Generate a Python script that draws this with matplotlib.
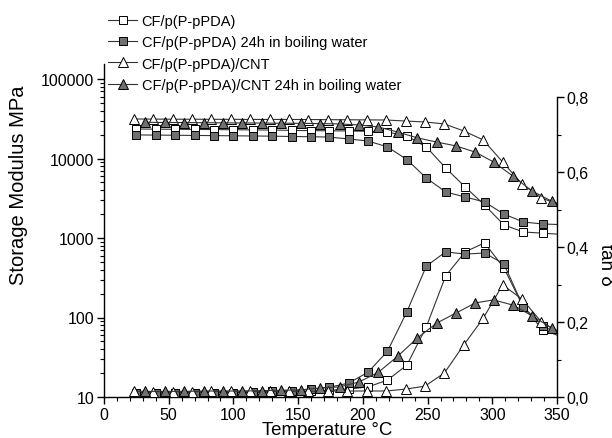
import matplotlib
matplotlib.use("Agg")
import matplotlib.pyplot as plt
from matplotlib.ticker import MultipleLocator, LogLocator, FixedLocator, FuncFormatter, NullFormatter

plt.rcParams['font.family'] = ['Liberation Sans', 'DejaVu Sans']

# ---- data ----
T_sq = [25, 40, 55, 70, 85, 100, 115, 130, 145, 160, 174, 189, 204, 219, 234, 249, 264, 279, 294, 309, 324, 339, 350]
T_tri_open = [23, 38, 53, 68, 83, 98, 113, 128, 143, 158, 173, 188, 203, 218, 233, 248, 263, 278, 293, 308, 323, 338, 350]
T_tri_fill = [32, 47, 62, 77, 92, 107, 122, 137, 152, 167, 182, 197, 212, 227, 242, 257, 272, 287, 301, 316, 331, 346, 350]

E_sq_open = [23500, 23400, 23300, 23200, 23100, 23000, 22900, 22800, 22600, 22400, 22300, 22200, 22000, 21500,
             19200, 14000, 7600, 4390, 2600, 1460, 1190, 1150, 1120]
E_sq_fill = [19800, 19700, 19600, 19500, 19400, 19300, 19200, 19100, 18900, 18800, 18600, 17600, 16600, 14000,
             9700, 5690, 3790, 3280, 2840, 2000, 1590, 1500, 1480]
E_tri_open = [31400, 31300, 31200, 31200, 31100, 31100, 31000, 31000, 31000, 30900, 30800, 30700, 30600, 30500,
              29600, 28800, 27200, 22200, 17100, 9040, 4780, 3180, 2700]
E_tri_fill = [28500, 28400, 28300, 28200, 28100, 28000, 27900, 27800, 27700, 27500, 27200, 26400, 24900, 21500,
              18200, 16100, 14400, 12000, 9040, 6000, 3870, 2900, 2750]

tan_sq_open = [0.012, 0.011, 0.011, 0.011, 0.012, 0.012, 0.012, 0.013, 0.014, 0.016, 0.018, 0.021, 0.027, 0.045,
               0.085, 0.187, 0.323, 0.387, 0.411, 0.344, 0.240, 0.179, 0.165]
tan_sq_fill = [0.012, 0.011, 0.011, 0.012, 0.012, 0.012, 0.013, 0.015, 0.017, 0.021, 0.026, 0.037, 0.066, 0.122,
               0.227, 0.349, 0.387, 0.381, 0.384, 0.355, 0.240, 0.190, 0.170]
tan_tri_open = [0.016, 0.014, 0.014, 0.014, 0.015, 0.015, 0.015, 0.015, 0.015, 0.015, 0.016, 0.016, 0.016, 0.016,
                0.021, 0.029, 0.064, 0.139, 0.210, 0.299, 0.261, 0.200, 0.175]
tan_tri_fill = [0.015, 0.015, 0.015, 0.016, 0.016, 0.016, 0.017, 0.018, 0.019, 0.024, 0.027, 0.040, 0.066, 0.109,
                0.157, 0.197, 0.224, 0.251, 0.259, 0.245, 0.216, 0.184, 0.178]

labels = ["CF/p(P-pPDA)", "CF/p(P-pPDA) 24h in boiling water",
          "CF/p(P-pPDA)/CNT", "CF/p(P-pPDA)/CNT 24h in boiling water"]

# ---- figure ----
fig = plt.figure(figsize=(6.12, 4.39), dpi=100)
ax = fig.add_axes([104/612, 1-398/439, 453/612, 333/439])
ax2 = ax.twinx()

line_c = '#333333'
fill_c = '#707070'
styles = [
    dict(marker='s', mfc='white', ms=5.4),
    dict(marker='s', mfc=fill_c, ms=5.4),
    dict(marker='^', mfc='white', ms=6.6),
    dict(marker='^', mfc=fill_c, ms=6.6),
]
Ts = [T_sq, T_sq, T_tri_open, T_tri_fill]
Es = [E_sq_open, E_sq_fill, E_tri_open, E_tri_fill]
tans = [tan_sq_open, tan_sq_fill, tan_tri_open, tan_tri_fill]

handles = []
for T, E, tn, st, lab in zip(Ts, Es, tans, styles, labels):
    n = len(T) - 1
    h, = ax.plot(T, E, color=line_c, lw=0.8, mec='black', mew=0.7,
                 markevery=list(range(n)), label=lab, **st)
    ax2.plot(T, tn, color=line_c, lw=0.8, mec='black', mew=0.7,
             markevery=list(range(n)), **st)
    handles.append(h)

ax.set_yscale('log')
ax.set_xlim(0, 350)
ax.set_ylim(10, 10**(1 + 333/79.5))
ax2.set_ylim(0, 0.8 * 333 / 300)

ax.spines['top'].set_visible(False)
ax.spines['right'].set_visible(False)
ax2.spines['top'].set_visible(False)
ax2.spines['left'].set_visible(False)
ax2.spines['bottom'].set_visible(False)
ax2.spines['right'].set_bounds(0, 0.8)
for sp in ['left', 'bottom']:
    ax.spines[sp].set_linewidth(1.0)
ax2.spines['right'].set_linewidth(1.0)

ax.xaxis.set_major_locator(MultipleLocator(50))
ax.xaxis.set_minor_locator(MultipleLocator(10))
ax.yaxis.set_major_locator(LogLocator(base=10, numticks=10))
ax.yaxis.set_minor_locator(LogLocator(base=10, subs=range(2, 10), numticks=20))
ax.yaxis.set_major_formatter(FuncFormatter(lambda v, p: f"{int(round(v))}"))
ax.yaxis.set_minor_formatter(NullFormatter())

ax2.yaxis.set_major_locator(FixedLocator([0, 0.2, 0.4, 0.6, 0.8]))
ax2.yaxis.set_minor_locator(FixedLocator([0.1, 0.3, 0.5, 0.7]))
ax2.yaxis.set_major_formatter(FuncFormatter(lambda v, p: f"{v:.1f}".replace('.', ',')))

ax.tick_params(axis='both', which='major', direction='out', length=5, width=1, labelsize=11.5, pad=2)
ax.tick_params(axis='both', which='minor', direction='out', length=3, width=0.8)
ax2.tick_params(axis='y', which='major', direction='out', length=5, width=1, labelsize=11.5, pad=2)
ax2.tick_params(axis='y', which='minor', direction='out', length=3, width=0.8)

ax.set_xlabel("Temperature °C", fontsize=13.4)
ax.xaxis.set_label_coords(0.492, -0.072)
ax.set_ylabel("Storage Modulus MPa", fontsize=14.5)
ax.yaxis.set_label_coords(-0.168, 0.64)
ax2.set_ylabel("tan δ", fontsize=13.5, rotation=270, va='center')
ax2.yaxis.set_label_coords(1.106, 0.40)

fig.legend(handles=handles, labels=labels, loc='upper left',
           bbox_to_anchor=(108/612, 1 - 15/439), frameon=False, fontsize=10.5,
           handlelength=2.0, handletextpad=0.3, labelspacing=0.5, borderpad=0, borderaxespad=0)

fig.savefig("out.png", dpi=100)
